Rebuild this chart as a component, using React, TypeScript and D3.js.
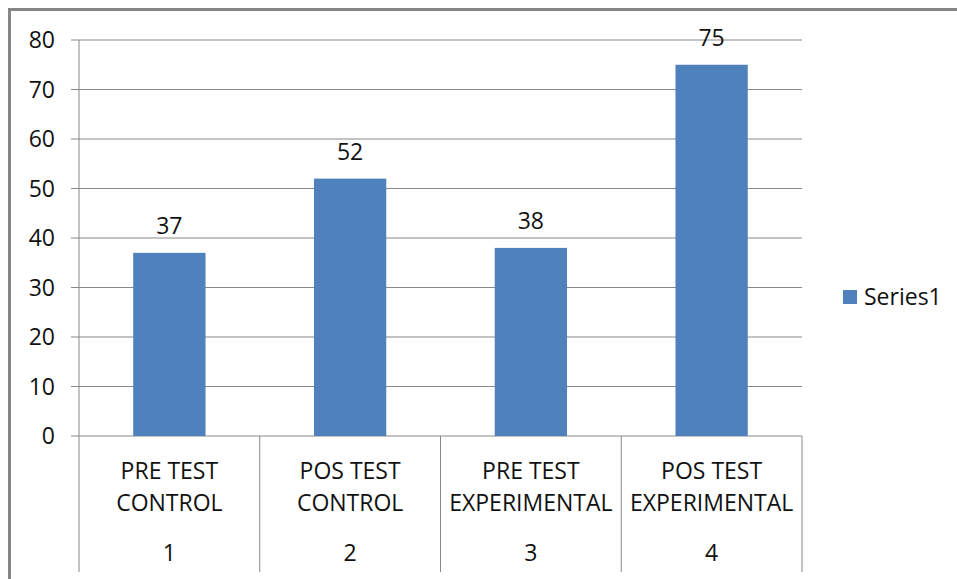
import React from "react";
import * as d3 from "d3";

const categories = ["PRE TEST|CONTROL", "POS TEST|CONTROL", "PRE TEST|EXPERIMENTAL", "POS TEST|EXPERIMENTAL"];
const groupLabels = ["1", "2", "3", "4"];
const values = [37, 52, 38, 75];
const yTicks = [0, 10, 20, 30, 40, 50, 60, 70, 80];
const seriesName = "Series1";

export default function App() {
  const W = 957, H = 579;
  const left = 79, right = 802, top = 40, bottom = 436;
  const x = d3.scaleBand<number>().domain(d3.range(values.length)).range([left, right]).paddingInner(0).paddingOuter(0);
  const y = d3.scaleLinear().domain([0, 80]).range([bottom, top]);
  const bw = x.bandwidth() * 0.4;
  const font = "Open Sans, sans-serif";
  const fs = 23;
  const color = "#4F81BD";
  return (
    <svg width={W} height={H} style={{ position: "absolute", left: 0, top: 0 }}>
      <rect x={0} y={0} width={W} height={H} fill="#fff" />
      <line x1={9.5} y1={8} x2={9.5} y2={H} stroke="#868686" strokeWidth={3} />
      <line x1={8} y1={9.5} x2={W} y2={9.5} stroke="#868686" strokeWidth={3} />
      {yTicks.map((t) => (
        <g key={t}>
          <line x1={71} x2={right} y1={y(t)} y2={y(t)} stroke="#888" strokeWidth={1} />
          <text x={55} y={y(t)} dy="0.35em" textAnchor="end" fontFamily={font} fontSize={fs} fill="#111">{t}</text>
        </g>
      ))}
      <line x1={left} x2={left} y1={top} y2={572} stroke="#888" />
      {values.map((v, i) => (
        <line key={"s" + i} x1={(x(i) as number) + x.bandwidth()} x2={(x(i) as number) + x.bandwidth()} y1={bottom} y2={572} stroke="#888" />
      ))}
      {values.map((v, i) => {
        const cx = (x(i) as number) + x.bandwidth() / 2;
        const lines = categories[i].split("|");
        return (
          <g key={i}>
            <rect x={cx - bw / 2} y={y(v)} width={bw} height={bottom - y(v)} fill={color} />
            <text x={cx} y={y(v) - 27} dy="0.35em" textAnchor="middle" fontFamily={font} fontSize={fs} fill="#111">{v}</text>
            <text x={cx} y={471} dy="0.35em" textAnchor="middle" fontFamily={font} fontSize={fs} fill="#111">{lines[0]}</text>
            <text x={cx} y={503} dy="0.35em" textAnchor="middle" fontFamily={font} fontSize={fs} fill="#111">{lines[1]}</text>
            <text x={cx} y={553} dy="0.35em" textAnchor="middle" fontFamily={font} fontSize={fs} fill="#111">{groupLabels[i]}</text>
          </g>
        );
      })}
      <rect x={843} y={290} width={14} height={14} fill={color} />
      <text x={864} y={297} dy="0.35em" fontFamily={font} fontSize={fs} fill="#111">{seriesName}</text>
    </svg>
  );
}
